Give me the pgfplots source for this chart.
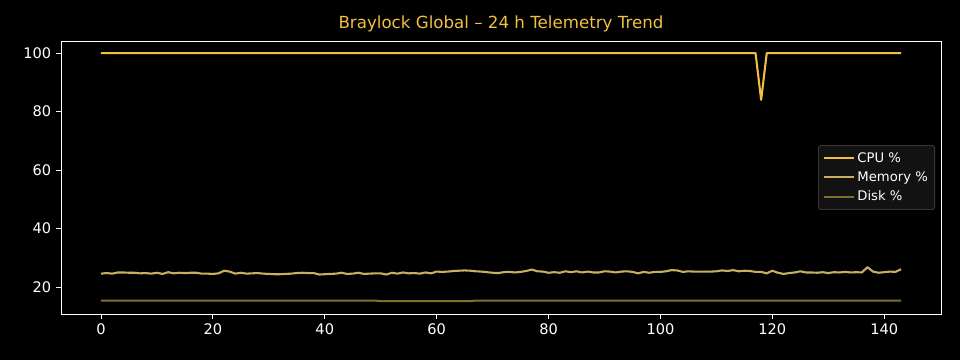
\documentclass[border=0pt]{standalone}
\usepackage{pgfplots}
\pgfplotsset{compat=1.18}
\usepackage{fontspec}
\setmainfont{DejaVu Sans}
\definecolor{cpuc}{HTML}{F2C040}
\definecolor{memc}{HTML}{C8B060}
\definecolor{diskc}{HTML}{7F6E30}
\definecolor{titlec}{HTML}{F0C040}
\begin{document}
\begin{tikzpicture}
\fill[black] (-43.92pt,-33.12pt) rectangle (647.28pt,226.08pt);
\begin{axis}[
  at={(0,0)}, anchor=south west,
  scale only axis, width=633.6pt, height=196.56pt,
  xmin=-7.15, xmax=150.15, ymin=10.8, ymax=104.15,
  xtick={0,20,...,140}, ytick={20,40,...,100},
  axis line style={white, line width=0.6pt},
  tick style={white, line width=0.6pt},
  tick align=outside, major tick length=3.5pt,
  xtick pos=bottom, ytick pos=left,
  ticklabel style={white, font=\fontsize{10.5}{12}\selectfont},
  /pgf/number format/assume math mode=true,
  title={Braylock Global – 24 h Telemetry Trend},
  title style={text=titlec, font=\fontsize{12}{14}\selectfont, yshift=-3pt},
  legend style={at={(rel axis cs:1,0.5)}, anchor=east, xshift=-4.3pt,
    fill=black!93!white, draw=black!70!white, rounded corners=2pt,
    text=white, font=\fontsize{9.5}{11}\selectfont, row sep=1.2pt, inner sep=3pt},
  legend cell align=left,
  legend image code/.code={\draw[#1] (0cm,0cm) -- (0.76cm,0cm);},
]
\addplot[cpuc, line width=1.5pt, line join=round] coordinates {
(0,100) (117,100) (118,84) (119,100) (143,100)};
\addlegendentry{CPU \%}
\addplot[memc, line width=1.5pt, line join=round] table {
x y
0 24.6
1 24.8
2 24.6
3 25.0
4 25.0
5 24.9
6 24.9
7 24.7
8 24.8
9 24.6
10 24.9
11 24.5
12 25.1
13 24.7
14 24.9
15 24.8
16 24.9
17 24.9
18 24.6
19 24.6
20 24.5
21 24.7
22 25.6
23 25.3
24 24.6
25 24.9
26 24.6
27 24.7
28 24.8
29 24.6
30 24.5
31 24.4
32 24.4
33 24.5
34 24.6
35 24.8
36 24.9
37 24.8
38 24.8
39 24.3
40 24.4
41 24.5
42 24.6
43 24.9
44 24.5
45 24.6
46 24.9
47 24.5
48 24.6
49 24.7
50 24.7
51 24.3
52 24.9
53 24.6
54 25.0
55 24.7
56 24.8
57 24.6
58 25.0
59 24.7
60 25.3
61 25.2
62 25.3
63 25.5
64 25.6
65 25.7
66 25.6
67 25.4
68 25.3
69 25.1
70 24.9
71 24.8
72 25.1
73 25.2
74 25.0
75 25.2
76 25.5
77 26.0
78 25.4
79 25.3
80 24.9
81 25.1
82 24.9
83 25.4
84 25.1
85 25.4
86 25.0
87 25.3
88 25.0
89 25.0
90 25.4
91 25.3
92 25.0
93 25.3
94 25.4
95 25.2
96 24.7
97 25.2
98 24.9
99 25.2
100 25.2
101 25.4
102 25.8
103 25.7
104 25.2
105 25.4
106 25.3
107 25.3
108 25.3
109 25.3
110 25.4
111 25.7
112 25.5
113 25.8
114 25.4
115 25.6
116 25.5
117 25.2
118 25.2
119 24.7
120 25.6
121 24.9
122 24.5
123 24.8
124 25.0
125 25.4
126 25.0
127 25.0
128 24.9
129 25.1
130 24.8
131 25.1
132 25.0
133 25.2
134 25.0
135 25.1
136 25.0
137 26.8
138 25.3
139 24.9
140 25.1
141 25.3
142 25.2
143 26.1
};
\addlegendentry{Memory \%}
\addplot[diskc, line width=1.5pt] coordinates {
(0,15.4) (49,15.4) (50,15.2) (66,15.2) (67,15.4) (143,15.4)};
\addlegendentry{Disk \%}
\end{axis}
\end{tikzpicture}
\end{document}
